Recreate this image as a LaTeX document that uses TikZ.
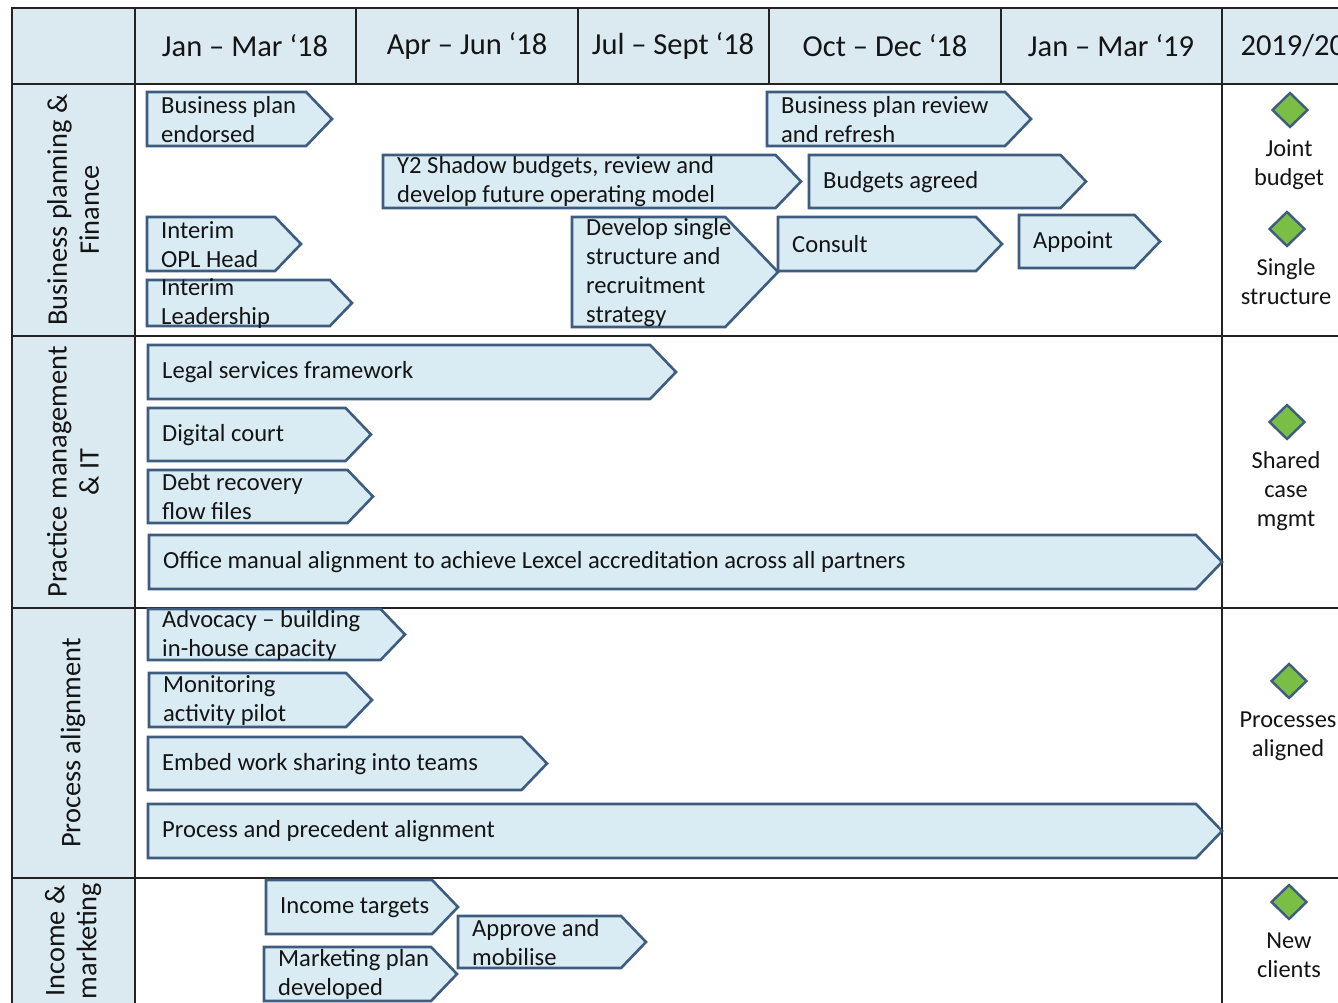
\documentclass[tikz,border=0pt]{standalone}
\usepackage{fontspec}
\setmainfont{Carlito}
\usetikzlibrary{shapes.geometric}

\definecolor{hdrfill}{RGB}{219,234,241}
\definecolor{chevfill}{RGB}{218,236,243}
\definecolor{chevline}{RGB}{62,92,128}
\definecolor{gridline}{RGB}{35,35,35}
\definecolor{msfill}{RGB}{122,190,70}
\definecolor{txt}{RGB}{20,20,20}

\tikzset{
  gridl/.style={draw=gridline, line width=2pt},
  chev/.style={draw=chevline, fill=chevfill, line width=2.6pt, line join=miter},
  chevtext/.style={anchor=west, inner sep=0pt, align=left, text=txt, font=\fontsize{24.6}{29}\selectfont},
  hdr/.style={text=txt, font=\fontsize{30.5}{34}\selectfont},
  rowlab/.style={rotate=90, align=center, text=txt, font=\fontsize{28.4}{32}\selectfont},
  milestone/.style={diamond, draw=chevline, fill=msfill, line width=2.4pt, minimum width=36pt, minimum height=35pt, inner sep=0pt},
  mstext/.style={align=center, text=txt, font=\fontsize{24.4}{29}\selectfont},
}

% chevron box: name, left, tip, top, bottom, text
\newcommand{\chevbox}[6]{%
  \draw[chev] (#2,#4) -- ({#3-0.48*(#5-#4)},#4) -- (#3,{(#4+#5)/2})
    -- ({#3-0.48*(#5-#4)},#5) -- (#2,#5) -- cycle;
  \node[chevtext] (#1) at ({#2+14},{(#4+#5)/2+0.5}) {#6};
}

\begin{document}
\begin{tikzpicture}[x=1pt, y=-1pt]
\useasboundingbox (0,0) rectangle (1338,1003);
\clip (0,0) rectangle (1338,1003);

% header band and row titles column
\fill[hdrfill] (12,8) rectangle (1360,84);
\fill[hdrfill] (12,84) rectangle (135,1010);

\draw[gridl] (12,1010) -- (12,8) -- (1360,8);
\draw[gridl] (12,84) -- (1360,84);
\draw[gridl] (12,336) -- (1360,336);
\draw[gridl] (12,608) -- (1360,608);
\draw[gridl] (12,878) -- (1360,878);
\draw[gridl] (135,8) -- (135,1010);
\draw[gridl] (1222,8) -- (1222,1010);
\foreach \x in {356,578,769,1001}
  \draw[gridl] (\x,8) -- (\x,84);

\node[hdr] (h1) at (245,46) {Jan – Mar ‘18};
\node[hdr] (h2) at (467,46) {Apr – Jun ‘18};
\node[hdr] (h3) at (673,46) {Jul – Sept ‘18};
\node[hdr] (h4) at (885,46) {Oct – Dec ‘18};
\node[hdr] (h5) at (1111,46) {Jan – Mar ‘19};
\node[hdr, anchor=west] (h6) at (1237,46) {2019/20};

\node[rowlab] (l1) at (73,210) {Business planning \&\\Finance};
\node[rowlab] (l2) at (73,472) {Practice management\\\& IT};
\node[rowlab] (l3) at (73,743) {Process alignment};
\node[rowlab] (l4) at (73,941) {Income \&\\marketing};

% business planning
\chevbox{c11}{147}{332}{92}{146}{Business plan\\endorsed}
\chevbox{c12}{767}{1031}{92}{146}{Business plan review\\and refresh}
\chevbox{c13}{383}{801}{155}{208}{Y2 Shadow budgets, review and\\develop future operating model}
\chevbox{c14}{809}{1086}{155}{208}{Budgets agreed}
\chevbox{c15}{147}{301}{217}{271}{Interim\\OPL Head}
\chevbox{c16}{147}{352}{280}{326}{Interim\\Leadership}
\chevbox{c17}{572}{778}{217}{327}{Develop single\\structure and\\recruitment\\strategy}
\chevbox{c18}{778}{1002}{217}{271}{Consult}
\chevbox{c19}{1019}{1160}{215}{268}{Appoint}

% practice management
\chevbox{c21}{148}{676}{345}{399}{Legal services framework}
\chevbox{c22}{148}{371}{408}{461}{Digital court}
\chevbox{c23}{148}{373}{470}{523}{Debt recovery\\flow files}
\chevbox{c24}{149}{1222}{535}{589}{Office manual alignment to achieve Lexcel accreditation across all partners}

% process alignment
\chevbox{c31}{148}{405}{609}{660}{Advocacy – building\\in-house capacity}
\chevbox{c32}{149}{372}{673}{727}{Monitoring\\activity pilot}
\chevbox{c33}{148}{547}{737}{790}{Embed work sharing  into teams}
\chevbox{c34}{148}{1222}{804}{858}{Process and precedent alignment}

% income
\chevbox{c41}{266}{458}{880}{934}{Income targets}
\chevbox{c42}{264}{457}{947}{1001}{Marketing plan\\developed}
\chevbox{c43}{458}{646}{916}{968}{Approve and\\mobilise}

% milestones
\node[milestone] (m1) at (1290,110) {};
\node[mstext] (t1) at (1289,165) {Joint\\budget};
\node[milestone] (m2) at (1287,229) {};
\node[mstext] (t2) at (1286,282) {Single\\structure};
\node[milestone] (m3) at (1287,422) {};
\node[mstext] (t3) at (1286,491) {Shared\\case\\mgmt};
\node[milestone] (m4) at (1289,681) {};
\node[mstext] (t4) at (1288,736) {Processes\\aligned};
\node[milestone] (m5) at (1289,902) {};
\node[mstext] (t5) at (1289,955) {New\\clients};
\end{tikzpicture}
\end{document}
